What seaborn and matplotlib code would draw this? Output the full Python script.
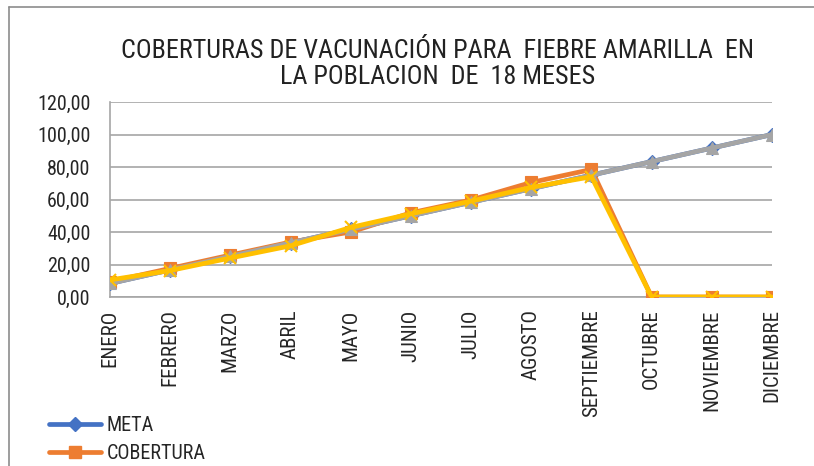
import matplotlib
matplotlib.use("Agg")
import matplotlib.pyplot as plt
from matplotlib.lines import Line2D
import seaborn as sns
import pandas as pd

meses = ["ENERO", "FEBRERO", "MARZO", "ABRIL", "MAYO", "JUNIO", "JULIO",
         "AGOSTO", "SEPTIEMBRE", "OCTUBRE", "NOVIEMBRE", "DICIEMBRE"]
meta = [8.33, 16.67, 25.00, 33.33, 41.67, 50.00, 58.33, 66.67, 75.00, 83.33, 91.67, 100.00]
meta_acumulada = [8.33, 16.67, 25.00, 33.33, 41.67, 50.00, 58.33, 66.67, 75.00, 83.33, 91.67, 100.00]
cobertura = [9.4, 17.6, 25.8, 33.8, 40.0, 51.8, 59.7, 70.5, 78.5, 0.0, 0.0, 0.0]
cobertura_acumulada = [10.5, 16.3, 24.0, 31.5, 42.8, 51.2, 59.0, 67.5, 74.0, 0.0, 0.0, 0.0]
yticks = [0, 20, 40, 60, 80, 100, 120]

sns.set_theme(style="white")
FONT = ["Roboto Condensed", "Liberation Sans Narrow", "Arial Narrow", "DejaVu Sans"]
plt.rcParams["font.family"] = FONT
plt.rcParams["font.stretch"] = "condensed"

df = pd.DataFrame({"mes": meses, "x": range(len(meses)),
                   "META": meta, "META_AC": meta_acumulada,
                   "COBERTURA": cobertura, "COB_AC": cobertura_acumulada})

fig = plt.figure(figsize=(8.14, 4.66), dpi=100)
ax = fig.add_axes([110 / 814, 1 - 297 / 466, (772 - 110) / 814, (297 - 102) / 466])

series = [
    ("META", "#4472C4", "D", 7.5),
    ("COBERTURA", "#ED7D31", "s", 8.5),
    ("META_AC", "#A5A5A5", "^", 8.5),
    ("COB_AC", "#FFC000", "x", 8.5),
]
for col, color, mk, ms in series:
    sns.lineplot(data=df, x="x", y=col, ax=ax, color=color, linewidth=3.4,
                 marker=mk, markersize=ms, markeredgecolor=color,
                 markeredgewidth=1.5 if mk == "x" else 0.8, legend=False,
                 solid_joinstyle="round", zorder=3)

ax.set_xlim(0, len(meses) - 1)
ax.set_ylim(0, 120)
ax.set_yticks(yticks)
ax.set_yticklabels([f"{v:.2f}".replace(".", ",") for v in yticks], fontsize=14.5)
ax.set_xticks(range(len(meses)))
ax.set_xticklabels(meses, rotation=90, fontsize=15, va="top", ha="center")
ax.tick_params(axis="x", pad=9, length=0)
ax.tick_params(axis="y", pad=14, length=0)
ax.set_xlabel("")
ax.set_ylabel("")
ax.grid(axis="y", color="#A6A6A6", linewidth=1.2)
ax.grid(axis="x", visible=False)
for s in ["top", "right"]:
    ax.spines[s].set_visible(False)
for s in ["left", "bottom"]:
    ax.spines[s].set_color("#A6A6A6")
    ax.spines[s].set_linewidth(1.2)
ax.set_axisbelow(True)

fig.text(438 / 814, 1 - 64 / 466,
         "COBERTURAS DE VACUNACIÓN PARA  FIEBRE AMARILLA  EN\nLA POBLACION  DE  18 MESES",
         ha="center", va="center", fontsize=18.8, linespacing=1.15, color="#222222")

handles = [
    Line2D([], [], color="#4472C4", lw=3.4, marker="D", markersize=7.5),
    Line2D([], [], color="#ED7D31", lw=3.4, marker="s", markersize=8.5),
]
fig.legend(handles, ["META", "COBERTURA"], loc="upper left",
           bbox_to_anchor=(31 / 814, 1 - 398 / 466), frameon=False,
           fontsize=14.5, handlelength=2.6, handletextpad=0.25, labelspacing=0.45)

# chart frame
fig.add_artist(Line2D([9 / 814, 9 / 814], [0, 1 - 7 / 466], transform=fig.transFigure,
                      color="#8C8C8C", lw=1.2))
fig.add_artist(Line2D([9 / 814, 1], [1 - 7 / 466, 1 - 7 / 466], transform=fig.transFigure,
                      color="#8C8C8C", lw=1.2))

fig.savefig("out.png", dpi=100, facecolor="white")
